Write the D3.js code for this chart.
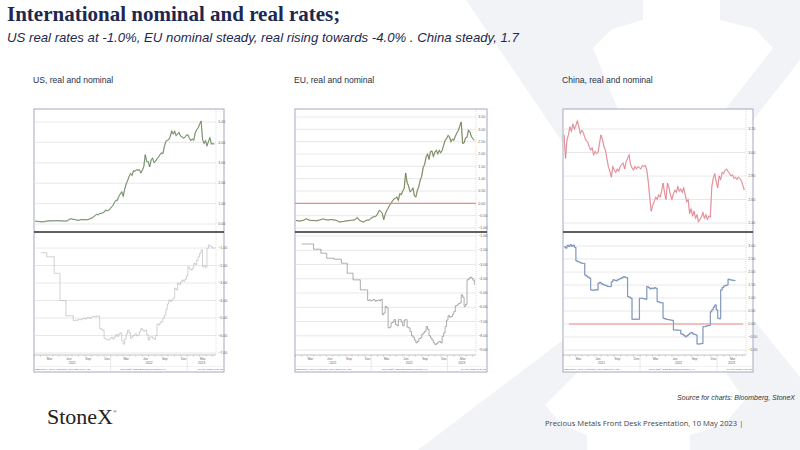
<!DOCTYPE html>
<html lang="en">
<head>
<meta charset="utf-8">
<title>International nominal and real rates</title>
<script src="https://d3js.org/d3.v7.min.js"></script>
<style>
  body { margin: 0; background: #fff; }
  svg { display: block; }
  .tick-label { font-family: "Liberation Sans", Arial, sans-serif; fill: #666; }
</style>
</head>
<body>
<script type="text/javascript">

    var w = 800;
    var h = 450;

    // weekly observations (Wednesdays) from 6 Jan 2021 to 10 May 2023
    var startDate = new Date(2021, 0, 6);
    var weekCount = 123;

    var usNominal = [
        0.13, 0.14, 0.12, 0.12, 0.11, 0.11, 0.11, 0.13, 0.14, 0.15, 0.16, 0.15, 0.16,
        0.16, 0.16, 0.16, 0.16, 0.16, 0.15, 0.15, 0.14, 0.15, 0.16, 0.21, 0.25, 0.25,
        0.22, 0.22, 0.20, 0.19, 0.18, 0.22, 0.21, 0.22, 0.21, 0.21, 0.22, 0.24, 0.28,
        0.30, 0.36, 0.42, 0.48, 0.45, 0.52, 0.51, 0.56, 0.58, 0.68, 0.65, 0.67, 0.74,
        0.83, 0.90, 1.05, 1.16, 1.16, 1.35, 1.47, 1.58, 1.36, 1.71, 1.96, 2.13, 2.33,
        2.48, 2.38, 2.61, 2.58, 2.66, 2.64, 2.66, 2.50, 2.64, 2.81, 3.40, 3.06, 3.06,
        2.80, 3.14, 3.23, 3.01, 3.07, 3.20, 3.28, 3.39, 3.49, 3.45, 3.80, 4.05, 4.10,
        4.14, 4.29, 4.56, 4.41, 4.55, 4.33, 4.41, 4.49, 4.31, 4.27, 4.21, 4.25, 4.36,
        4.37, 4.21, 4.09, 4.17, 4.10, 4.46, 4.62, 4.71, 4.89, 5.05, 4.14, 3.95, 4.09,
        3.83, 4.04, 4.23, 3.92, 3.94, 3.92
    ];

    var usReal = [
        null, null, null, null, -1.27, -1.27, -1.27, -1.27, -1.50, -1.50, -1.50, -1.50, -1.50,
        -2.45, -2.45, -2.45, -2.45, -4.00, -4.00, -4.00, -4.00, -4.87, -4.87, -4.87, -4.87, -4.87,
        -5.15, -5.12, -5.13, -5.10, -5.08, -5.10, -5.05, -5.02, -5.06, -5.00, -4.98, -5.03, -4.95,
        -4.92, -4.90, -4.93, -4.88, -4.90, -5.60, -5.65, -5.70, -6.16, -6.20, -6.24, -6.26,
        -6.15, -6.10, -6.20, -6.07, -5.95, -6.05, -5.90, -5.85,
        -6.30, -6.49, -6.20, -5.90, -5.69, -5.85, -6.16, -6.05, -6.00, -5.90, -6.02, -5.97,
        -5.80, -5.59, -5.70, -5.75, -5.69, -5.95, -6.26, -6.10, -6.07, -6.15, -6.22, -6.00,
        -5.34, -5.40, -5.25, -5.21, -5.00, -4.83, -4.50, -4.20, -3.97, -4.05, -3.95, -3.87,
        -3.30, -3.40, -3.00, -3.10, -2.95, -2.83, -2.90, -2.79, -2.60, -2.07, -2.20, -2.26,
        -2.15, -1.87, -1.95, -1.70, -1.50, -1.30,
        -1.11, -2.07, -2.00, -2.10, -1.02, -0.83, -0.90, -0.95, -1.02, -0.98
    ];

    var euNominal = [
        -0.70, -0.70, -0.72, -0.71, -0.70, -0.69, -0.66, -0.62, -0.66, -0.68, -0.69, -0.70, -0.69,
        -0.70, -0.71, -0.69, -0.68, -0.66, -0.64, -0.64, -0.66, -0.67, -0.68, -0.66, -0.66, -0.66,
        -0.68, -0.68, -0.70, -0.74, -0.76, -0.74, -0.74, -0.73, -0.71, -0.71, -0.70, -0.69, -0.69,
        -0.68, -0.67, -0.63, -0.58, -0.67, -0.71, -0.73, -0.76, -0.73, -0.69, -0.68, -0.68, -0.62,
        -0.58, -0.55, -0.54, -0.50, -0.40, -0.28, -0.33, -0.40, -0.66, -0.45, -0.30, -0.20, -0.08,
        0.00, 0.10, 0.18, 0.20, 0.26, 0.12, 0.39, 0.35, 0.50, 0.60, 1.23, 0.85, 0.70,
        0.47, 0.52, 0.62, 0.30, 0.26, 0.52, 0.68, 0.95, 1.10, 1.45, 1.58, 1.88, 2.00,
        1.78, 2.10, 2.12, 1.90, 2.08, 2.15, 2.00, 2.15, 2.05, 2.15, 2.35, 2.55, 2.62,
        2.75, 2.70, 2.50, 2.60, 2.56, 2.72, 2.85, 2.95, 3.12, 3.30, 2.43, 2.45, 2.65,
        2.68, 2.97, 2.90, 2.70, 2.62, 2.56
    ];

    var euReal = [
        null, null, null, null, -1.56, -1.56, -1.56, -1.56, -1.56, -1.56, -1.56, -1.56,
        -1.93, -1.93, -1.93, -1.93, -1.93, -2.21, -2.21, -2.21, -2.21,
        -2.56, -2.56, -2.56, -2.56, -2.56, -2.63, -2.63, -2.63, -2.63, -2.63,
        -2.91, -2.91, -2.91, -2.91, -3.61, -3.61, -3.61, -3.61,
        -4.08, -4.08, -4.08, -4.08, -4.08, -4.78, -4.78, -4.78, -4.78, -4.78,
        -5.52, -5.48, -5.55, -5.50, -5.46, -5.58, -5.52, -5.49, -5.55, -5.45,
        -6.52, -6.40, -5.94, -6.05, -7.45, -7.40, -7.10, -7.05, -6.87, -7.20, -7.30, -6.87,
        -6.87, -7.05, -7.30, -6.90, -6.87, -7.40, -7.45, -7.70, -8.00, -8.10, -8.30, -8.50,
        -8.40, -8.20, -8.15, -7.90, -7.80, -7.69, -7.34, -7.55, -8.00, -8.15, -8.30, -8.50,
        -8.62, -8.55, -8.45, -8.40, -8.50, -8.04, -7.80, -7.34, -6.90, -6.59, -6.70, -6.65,
        -6.50, -6.30, -5.90, -5.85, -5.75, -5.70,
        -5.13, -5.30, -5.94, -5.80, -4.08, -4.00, -3.89, -3.95, -4.10, -4.43
    ];

    var cnNominal = [
        3.15, 2.95, 3.11, 3.15, 3.22, 3.18, 3.24, 3.20, 3.23, 3.27, 3.22, 3.16, 3.19,
        3.17, 3.13, 3.10, 3.09, 3.05, 3.02, 3.04, 2.98, 3.01, 2.99, 3.00, 3.08, 3.15,
        3.11, 3.05, 3.02, 2.95, 2.88, 2.84, 2.79, 2.88, 2.85, 2.83, 2.86, 2.84, 2.88,
        2.90, 2.91, 2.86, 2.92, 2.95, 2.98, 2.90, 2.87, 2.85, 2.88, 2.86, 2.88, 2.87,
        2.86, 2.89, 2.88, 2.89, 2.85, 2.75, 2.62, 2.50, 2.55, 2.58, 2.62, 2.60, 2.64,
        2.62, 2.67, 2.74, 2.66, 2.60, 2.74, 2.70, 2.64, 2.60, 2.65, 2.68, 2.66, 2.71,
        2.67, 2.69, 2.66, 2.70, 2.64, 2.58, 2.60, 2.48, 2.52, 2.46, 2.50, 2.44, 2.47,
        2.41, 2.43, 2.45, 2.49, 2.44, 2.47, 2.43, 2.46, 2.45, 2.71, 2.78, 2.82, 2.75,
        2.70, 2.80, 2.77, 2.83, 2.82, 2.85, 2.86, 2.84, 2.82, 2.80, 2.81, 2.78, 2.79,
        2.77, 2.79, 2.78, 2.76, 2.72, 2.68
    ];

    var cnReal = [
        2.97, 2.92, 3.02, 2.98, 3.05, 2.99, 3.03, 2.95, 2.43, 2.40, 2.38, 2.35,
        2.33, 2.33, 1.88, 1.84, 1.80, 1.76, 1.31, 1.30, 1.30, 1.32, 1.31,
        1.57, 1.60, 1.55, 1.52, 1.50, 1.48, 1.45, 1.44, 1.44,
        1.62, 1.70, 1.68, 1.66, 1.70, 1.73, 1.75, 1.78, 1.82, 1.80, 1.78,
        1.05, 1.03, 0.99, 0.18, 0.18, 0.19, 0.18, 0.18, 0.99, 0.99, 0.98, 0.97, 0.95,
        1.44, 1.40, 1.35, 1.38, 1.36, 1.40, 1.37, 0.86, 0.84, 0.82, 0.82,
        0.22, 0.20, 0.18, 0.17, 0.16, 0.15, 0.14, -0.23, -0.23, -0.23, -0.24, -0.24,
        -0.38, -0.40, -0.45, -0.49, -0.45, -0.40, -0.35, -0.33, -0.38, -0.40, -0.42,
        -0.77, -0.77, -0.76, -0.75, -0.10, -0.10, -0.08, -0.06, -0.06,
        0.47, 0.55, 0.65, 0.73, 0.54, 0.22, 0.20, 1.31, 1.40, 1.46, 1.48, 1.50,
        1.72, 1.70, 1.69, 1.68, 1.67, 1.67,
        null, null, null, null, null, null
    ];

    // right-hand axis tick values
    var usNominalTicks = [0, 1, 2, 3, 4, 5];
    var usRealTicks = [-7, -6, -5, -4, -3, -2, -1];
    var euNominalTicks = [-1, -0.5, 0, 0.5, 1, 1.5, 2, 2.5, 3, 3.5];
    var euRealTicks = [-9, -8, -7, -6, -5, -4, -3, -2, -1];
    var cnNominalTicks = [2.4, 2.6, 2.8, 3.0, 3.2];
    var cnRealTicks = [-1, -0.5, 0, 0.5, 1, 1.5, 2, 2.5, 3];

    // x-axis labels
    var monthLabels = ["Mar", "Jun", "Sep", "Dec", "Mar", "Jun", "Sep", "Dec", "Mar"];
    var monthLabelDates = ["2021-03", "2021-06", "2021-09", "2021-12", "2022-03", "2022-06", "2022-09", "2022-12", "2023-03"];
    var yearLabels = ["2021", "2022", "2023"];

    var xDomain = [new Date(2021, 0, 1), new Date(2023, 4, 18)];
    var dates = d3.range(weekCount).map(function (i) { return d3.timeDay.offset(startDate, 7 * i); });
    var parseMonth = d3.timeParse("%Y-%m");

    var frameTop = 109, split = 232, baseY = 355, frameBottom = 372;

    var panels = [
        {title: "US, real and nominal", left: 34, plotRight: 216, right: 224,
            top: {values: usNominal, domain: [0, 5], range: [224, 122], ticks: usNominalTicks, color: "#4d6b48", halo: "#c8d6c0"},
            bottom: {values: usReal, domain: [-7, -1], range: [353, 248], ticks: usRealTicks, color: "#b8b8b8", step: true}},
        {title: "EU, real and nominal", left: 295, plotRight: 476, right: 487,
            top: {values: euNominal, domain: [-1, 3.5], range: [228, 117], ticks: euNominalTicks, color: "#56643f", halo: "#c6d0b4", ref: [0, 0]},
            bottom: {values: euReal, domain: [-9, -1], range: [350, 236], ticks: euRealTicks, color: "#808080", step: true}},
        {title: "China, real and nominal", left: 563, plotRight: 746, right: 753,
            top: {values: cnNominal, domain: [2.4, 3.2], range: [223, 129], ticks: cnNominalTicks, color: "#d86a7a", halo: "#f6d2d6"},
            bottom: {values: cnReal, domain: [-1, 3], range: [350, 246], ticks: cnRealTicks, color: "#4f6e9e", halo: "#d3dcea", step: true, ref: [6, 3]}}
    ];

    var svg = d3.select("body")
            .append("svg")
            .attr("width", w)
            .attr("height", h);

    svg.append("rect").attr("width", w).attr("height", h).attr("fill", "#fff");

    // faint "X" watermark behind the slide
    var markPoints = [[466, 0], [643, 0], [643, 20], [612, 29], [593, 48], [655, 200], [773, 48], [755, 29], [720, 20], [720, 0],
        [800, 0], [800, 60], [674, 222], [770, 340], [800, 377], [800, 450], [690, 450], [690, 435], [724, 424], [745, 400],
        [665, 285], [545, 405], [562, 425], [587, 435], [587, 450], [418, 450], [651, 273]];
    svg.append("path")
            .attr("d", d3.line()(markPoints) + "Z")
            .attr("fill", "#f2f3f6");

    // headings
    svg.append("text")
            .attr("x", 7).attr("y", 21)
            .attr("font-family", "'Liberation Serif', serif")
            .attr("font-weight", "bold")
            .attr("font-size", 21)
            .attr("fill", "#1d2850")
            .text("International nominal and real rates;");

    svg.append("text")
            .attr("x", 7).attr("y", 42)
            .attr("font-family", "'Liberation Sans', Arial, sans-serif")
            .attr("font-style", "italic")
            .attr("font-size", 13.2)
            .attr("fill", "#1d2850")
            .text("US real rates at -1.0%, EU nominal steady, real rising towards -4.0% .  China steady, 1.7");

    var fmt = d3.format(".2f");

    panels.forEach(function (p) {
        var x = d3.scaleTime().domain(xDomain).range([p.left, p.plotRight]);
        var g = svg.append("g");

        g.append("text")
                .attr("x", p.left - 1).attr("y", 83)
                .attr("font-family", "'Liberation Sans', Arial, sans-serif")
                .attr("font-size", 8.6)
                .attr("fill", "#26304a")
                .text(p.title);

        g.append("rect")
                .attr("x", p.left).attr("y", frameTop)
                .attr("width", p.right - p.left).attr("height", frameBottom - frameTop)
                .attr("fill", "#fff")
                .attr("stroke", "#a3a8bd")
                .attr("stroke-width", 1);

        [p.top, p.bottom].forEach(function (s) {
            var y = d3.scaleLinear().domain(s.domain).range(s.range);

            g.selectAll(null).data(s.ticks).enter().append("line")
                    .attr("x1", p.left).attr("x2", p.plotRight)
                    .attr("y1", function (d) { return y(d); })
                    .attr("y2", function (d) { return y(d); })
                    .attr("stroke", "#e2e2e2")
                    .attr("stroke-width", 0.8);

            g.selectAll(null).data(s.ticks).enter().append("text")
                    .attr("class", "tick-label")
                    .attr("x", p.plotRight + 2.2)
                    .attr("y", function (d) { return y(d) + 1.2; })
                    .attr("font-size", 3.6)
                    .text(function (d) { return fmt(d); });

            if (s.ref) {
                g.append("line")
                        .attr("x1", p.left + s.ref[0]).attr("x2", p.plotRight - s.ref[1])
                        .attr("y1", y(0)).attr("y2", y(0))
                        .attr("stroke", "#ee8a8a")
                        .attr("stroke-width", 1.2);
            }

            var line = d3.line()
                    .defined(function (d) { return d != null; })
                    .x(function (d, i) { return x(dates[i]); })
                    .y(function (d) { return y(d); })
                    .curve(s.step ? d3.curveStepAfter : d3.curveLinear);

            if (s.halo) {
                g.append("path")
                        .attr("d", line(s.values))
                        .attr("fill", "none")
                        .attr("stroke", s.halo)
                        .attr("stroke-width", 1.4);
            }
            g.append("path")
                    .attr("d", line(s.values))
                    .attr("fill", "none")
                    .attr("stroke", s.color)
                    .attr("stroke-width", 0.65);
        });

        // right axis rule
        g.append("line")
                .attr("x1", p.plotRight).attr("x2", p.plotRight)
                .attr("y1", frameTop).attr("y2", baseY)
                .attr("stroke", "#bbb")
                .attr("stroke-width", 0.5)
                .attr("stroke-dasharray", "1,1");

        // separator between nominal and real panes
        g.append("line")
                .attr("x1", p.left).attr("x2", p.right)
                .attr("y1", split).attr("y2", split)
                .attr("stroke", "#2b2b2b")
                .attr("stroke-width", 1.6);

        // time axis
        g.append("line")
                .attr("x1", p.left).attr("x2", p.plotRight)
                .attr("y1", baseY).attr("y2", baseY)
                .attr("stroke", "#9a9a9a")
                .attr("stroke-width", 0.6);

        g.selectAll(null).data(d3.timeMonth.range(xDomain[0], xDomain[1])).enter().append("line")
                .attr("x1", function (d) { return x(d); })
                .attr("x2", function (d) { return x(d); })
                .attr("y1", baseY).attr("y2", baseY + 1.6)
                .attr("stroke", "#999")
                .attr("stroke-width", 0.4);

        g.selectAll(null).data(monthLabels).enter().append("text")
                .attr("class", "tick-label")
                .attr("x", function (d, i) { return x(d3.timeDay.offset(parseMonth(monthLabelDates[i]), 15)); })
                .attr("y", 359.8)
                .attr("text-anchor", "middle")
                .attr("font-size", 3.2)
                .text(function (d) { return d; });

        var yearStarts = yearLabels.map(function (d) { return new Date(+d, 0, 1); });
        g.selectAll(null).data(yearLabels).enter().append("text")
                .attr("class", "tick-label")
                .attr("x", function (d, i) {
                    var a = yearStarts[i];
                    var b = i < yearStarts.length - 1 ? yearStarts[i + 1] : xDomain[1];
                    return (x(a) + x(b)) / 2;
                })
                .attr("y", 364.4)
                .attr("text-anchor", "middle")
                .attr("font-size", 3.2)
                .text(function (d) { return d; });

        g.selectAll(null).data(yearStarts.slice(1)).enter().append("line")
                .attr("x1", function (d) { return x(d); })
                .attr("x2", function (d) { return x(d); })
                .attr("y1", baseY).attr("y2", frameBottom)
                .attr("stroke", "#d0d0d0")
                .attr("stroke-width", 0.5);

        // Bloomberg footer strip
        g.append("line")
                .attr("x1", p.left).attr("x2", p.right)
                .attr("y1", 366.5).attr("y2", 366.5)
                .attr("stroke", "#ddd")
                .attr("stroke-width", 0.4);
        g.append("text").attr("class", "tick-label")
                .attr("x", p.left + 1).attr("y", 370.3).attr("font-size", 2.5)
                .text("SECURITY: Govt Yields Daily 01JAN21-10MAY23");
        g.append("text").attr("class", "tick-label")
                .attr("x", (p.left + p.right) / 2 + 14).attr("y", 370.3).attr("font-size", 2.5)
                .attr("text-anchor", "middle")
                .text("Copyright\u00a9 2023 Bloomberg Finance L.P.");
        g.append("text").attr("class", "tick-label")
                .attr("x", p.right - 1).attr("y", 370.3).attr("font-size", 2.5)
                .attr("text-anchor", "end")
                .text("10-May-2023 10:24:05");
    });

    // slide footer
    svg.append("text")
            .attr("x", 795).attr("y", 400)
            .attr("text-anchor", "end")
            .attr("font-family", "'Liberation Sans', Arial, sans-serif")
            .attr("font-style", "italic")
            .attr("font-size", 7)
            .attr("fill", "#333")
            .text("Source for charts: Bloomberg, StoneX");

    svg.append("text")
            .attr("x", 545).attr("y", 426)
            .attr("font-family", "'Open Sans', 'Liberation Sans', sans-serif")
            .attr("font-size", 7.6)
            .attr("fill", "#444")
            .text("Precious Metals Front Desk Presentation, 10 May 2023 |");

    var logo = svg.append("text")
            .attr("x", 47).attr("y", 424)
            .attr("font-family", "'Liberation Serif', serif")
            .attr("font-size", 22)
            .attr("fill", "#222");
    logo.append("tspan").text("StoneX");
    logo.append("tspan").attr("font-size", 5).attr("dy", -11).text("\u00ae");

</script>
</body>
</html>
